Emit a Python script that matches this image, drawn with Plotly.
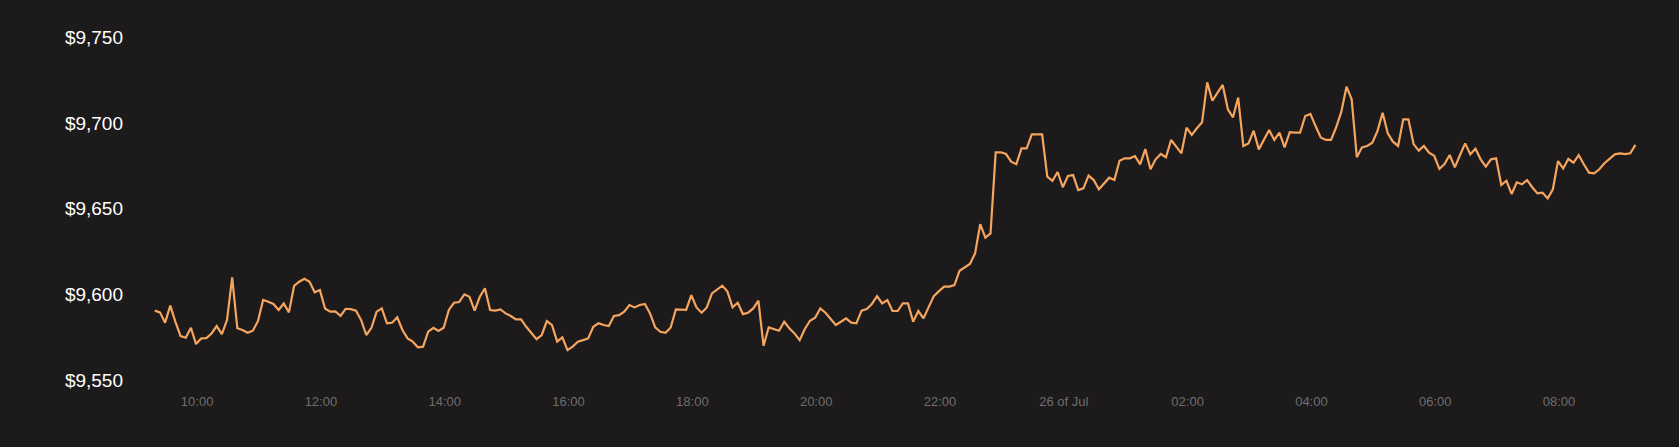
import pandas as pd
import plotly.graph_objects as go

# ---- data (BTC price, 5-minute samples, 25-26 Jul) ----
START_TIME = "2019-07-25 09:19"
STEP = "5min"

prices_morning = [9590.5, 9589.5, 9583.5, 9593.4, 9584, 9575.7, 9574.7, 9580.5, 9571, 9574.3,
                  9574.5, 9577.2, 9581.5, 9576.8, 9585, 9609.9, 9580.2, 9579.2, 9577.6, 9578.8,
                  9584.4, 9596.7, 9595.7, 9594.4, 9590.9, 9594.7, 9589.5, 9604.9, 9607.4, 9609.1,
                  9607.4, 9601.2, 9602.5, 9591.8, 9589.9, 9590.1, 9587.4, 9591.6, 9591.4, 9590.5,
                  9585, 9576.3, 9580.5, 9589.9, 9591.8, 9583.1, 9583.5, 9586.6]
prices_midday = [9579.2, 9574.3, 9572.4, 9569.1, 9569.5, 9578.2, 9580.5, 9578.6, 9580.5, 9590.9,
                 9595.1, 9595.5, 9600, 9598.6, 9590.5, 9598.6, 9603.5, 9590.9, 9590.5, 9591.2,
                 9588.9, 9587.4, 9585.4, 9585.4, 9581.1, 9577.2, 9573.9, 9576.3, 9584.4, 9582.1,
                 9572.4, 9574.9, 9567.5, 9569.5, 9572.4, 9573.3, 9574.3, 9581.1, 9583.1, 9582.1,
                 9581.5, 9587.4, 9587.9, 9589.9, 9593.8, 9592.4, 9593.8, 9594.4]
prices_afternoon = [9588.9, 9580.7, 9578.2, 9577.6, 9580.7, 9591.2, 9591.2, 9590.9, 9599.6, 9592.4,
                    9589.3, 9592.4, 9600.6, 9602.9, 9605.1, 9601.6, 9592.4, 9595.1, 9588.5, 9589.3,
                    9591.8, 9596.3, 9570, 9580.7, 9579.8, 9578.8, 9584, 9580.2, 9577.2, 9573.3,
                    9579.8, 9584.6, 9586.4, 9591.8, 9589.3, 9585.4, 9582.1, 9584, 9586, 9583.5,
                    9583.1, 9590.5, 9591.4, 9594.4, 9599, 9594.7, 9596.7]
prices_evening = [9590.3, 9590.3, 9594.7, 9594.7, 9584, 9590.3, 9586, 9592.8, 9599, 9601.9,
                  9604.5, 9604.5, 9605.4, 9613.8, 9615.8, 9617.7, 9623.9, 9641, 9633.1, 9635.6,
                  9682.9, 9682.9, 9681.9, 9677.4, 9675.9, 9685.2, 9685.2, 9693.4, 9693.4, 9693.4,
                  9668.7, 9666.3, 9671.4, 9662.5, 9669.1, 9669.6, 9660.9, 9661.9, 9669.3, 9666.7,
                  9661.3, 9664.8, 9668.1, 9666.7, 9678, 9679.4, 9679.4, 9680.7]
prices_night = [9675.9, 9684.8, 9673, 9678.8, 9681.9, 9680, 9690.1, 9686.2, 9682.3, 9697.3,
                9693, 9696.9, 9700.4, 9723.7, 9713, 9717.7, 9722.2, 9708, 9703.3, 9714.8,
                9686.6, 9688.1, 9695.5, 9684.6, 9690.1, 9695.9, 9690.1, 9694.4, 9685.8, 9694.6,
                9694.4, 9694.4, 9704.1, 9705.3, 9698.2, 9691.6, 9690.1, 9690.1, 9697.5, 9706.6,
                9721.2, 9713.8, 9680, 9685.8, 9686.6, 9688.5, 9695.3, 9706, 9694]
prices_dawn = [9689.1, 9686.6, 9702.1, 9702.1, 9687.7, 9683.9, 9686.6, 9682.7, 9680.9, 9673.2,
               9676.1, 9681.3, 9674.1, 9681.3, 9688.1, 9681.7, 9685, 9678.8, 9674.5, 9678.8,
               9679.4, 9663.8, 9666.3, 9658.6, 9665.4, 9664.2, 9666.7, 9662.5, 9658.9, 9659.3,
               9656, 9661.3, 9677.8, 9673.5, 9679, 9676.8, 9681.3, 9675.9, 9671, 9670.6,
               9673, 9676.5, 9679.4, 9681.7, 9682.3, 9681.9, 9682.3, 9687.2]

y_tickvals = [9550, 9600, 9650, 9700, 9750]
y_ticktext = ["$9,550", "$9,600", "$9,650", "$9,700", "$9,750"]
x_tickvals = ["2019-07-25 10:00", "2019-07-25 12:00", "2019-07-25 14:00", "2019-07-25 16:00",
              "2019-07-25 18:00", "2019-07-25 20:00", "2019-07-25 22:00", "2019-07-26 00:00",
              "2019-07-26 02:00", "2019-07-26 04:00", "2019-07-26 06:00", "2019-07-26 08:00"]
x_ticktext = ["10:00", "12:00", "14:00", "16:00", "18:00", "20:00", "22:00", "26 of Jul",
              "02:00", "04:00", "06:00", "08:00"]
x_range = ["2019-07-25 09:04:40", "2019-07-26 09:27:10"]
y_range = [9544.2, 9760.1]

prices = (prices_morning + prices_midday + prices_afternoon +
          prices_evening + prices_night + prices_dawn)
times = pd.date_range(START_TIME, periods=len(prices), freq=STEP)

BG = "#1c1a1b"

fig = go.Figure(
    go.Scatter(x=times, y=prices, mode="lines",
               line=dict(color="#f5a55e", width=2.2), hoverinfo="x+y")
)

fig.update_layout(
    width=1679, height=447,
    margin=dict(l=140, r=30, t=20, b=57),
    paper_bgcolor=BG, plot_bgcolor=BG,
    showlegend=False,
    font=dict(family="Liberation Sans, Arial, sans-serif"),
)
fig.update_xaxes(
    range=x_range, tickmode="array", tickvals=x_tickvals, ticktext=x_ticktext,
    showgrid=False, zeroline=False, showline=False, ticks="",
    tickfont=dict(size=13, color="#6f6f6f"), ticklabelstandoff=2,
)
fig.update_yaxes(
    range=y_range, tickmode="array", tickvals=y_tickvals, ticktext=y_ticktext,
    showgrid=False, zeroline=False, showline=False, ticks="",
    tickfont=dict(size=19, color="#ffffff"), ticklabelstandoff=16,
)

fig.write_html(
    "out.html",
    config={"displayModeBar": False},
    post_script=("document.body.style.margin='0';"
                 "document.body.style.background='" + BG + "';"
                 "document.body.style.overflow='hidden';"),
)
